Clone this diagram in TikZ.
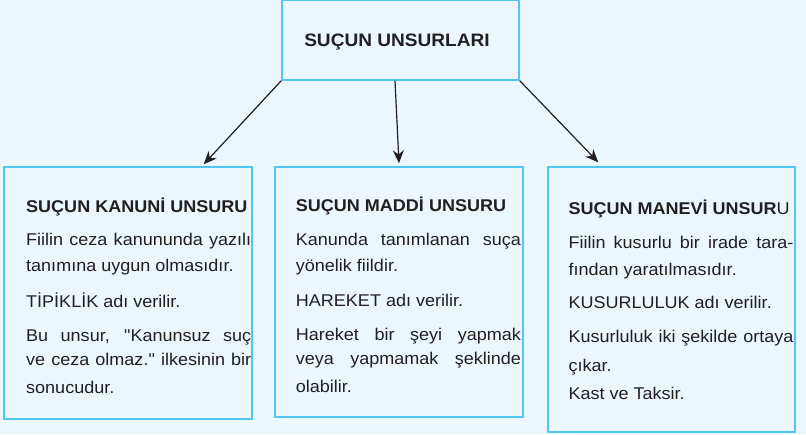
\documentclass[tikz,border=0pt]{standalone}
\usepackage{fontspec}
\setmainfont{Liberation Sans}
\newfontfamily\arialf{Liberation Sans}
\usepackage{graphicx}
\usetikzlibrary{arrows.meta,calc}
\definecolor{bg}{RGB}{235,247,253}
\definecolor{frame}{RGB}{80,198,240}
\definecolor{ink}{RGB}{35,31,32}
\newcommand\sx[1]{\scalebox{1.06}[1]{#1}}
\newcommand\jl[1]{\makebox[212.3pt][s]{#1}}
\hbadness=10000
\begin{document}
\begin{tikzpicture}[x=1pt,y=-1pt,
  box/.style={draw=frame, line width=1.5pt, fill=bg, rectangle, inner sep=0pt},
  txt/.style={anchor=base west, inner sep=0pt, text=ink, font=\arialf\fontsize{17}{20}\selectfont},
  hd/.style={txt, font=\arialf\fontsize{17}{20}\selectfont\bfseries},
  arr/.style={draw=ink, line width=1.2pt, -{Stealth[length=13pt,width=11pt]}}]
\fill[bg] (0,0) rectangle (806,434);
\useasboundingbox (0,0) rectangle (806,434);
% boxes
\node[box, minimum width=237pt, minimum height=79.5pt] (top) at (400.5,40.2) {};
\node[box, minimum width=248pt, minimum height=252pt] (kan) at (128,293) {};
\node[box, minimum width=248pt, minimum height=250pt] (mad) at (399,292) {};
\node[box, minimum width=247pt, minimum height=265pt] (man) at (671.5,299.5) {};
% title
\node[txt, anchor=base, font=\arialf\fontsize{18}{20}\selectfont\bfseries] (title) at (397,46.7) {\sx{SUÇUN UNSURLARI}};
% left box
\node[hd] (k0) at (26,212.3) {\sx{SUÇUN KANUNİ UNSURU}};
\node[txt] (k1) at (26,245.7) {\sx{\jl{Fiilin ceza kanununda yazılı}}};
\node[txt] (k2) at (26,271) {\sx{tanımına uygun olmasıdır.}};
\node[txt] (k3) at (26,307.7) {\sx{TİPİKLİK adı verilir.}};
\node[txt] (k4) at (26,341) {\sx{\jl{Bu unsur, "Kanunsuz suç}}};
\node[txt] (k5) at (26,365.5) {\sx{\jl{ve ceza olmaz." ilkesinin bir}}};
\node[txt] (k6) at (26,393.3) {\sx{sonucudur.}};
% middle box
\node[hd] (m0) at (295.7,211.7) {\sx{SUÇUN MADDİ UNSURU}};
\node[txt] (m1) at (295.7,245) {\sx{\jl{Kanunda tanımlanan suça}}};
\node[txt] (m2) at (295.7,271) {\sx{yönelik fiildir.}};
\node[txt] (m3) at (295.7,306.7) {\sx{HAREKET adı verilir.}};
\node[txt] (m4) at (295.7,340) {\sx{\jl{Hareket bir şeyi yapmak}}};
\node[txt] (m5) at (295.7,364.3) {\sx{\jl{veya yapmamak şeklinde}}};
\node[txt] (m6) at (295.7,392.3) {\sx{olabilir.}};
% right box
\node[txt] (n0) at (568.3,214.3) {\sx{\textbf{SUÇUN MANEVİ UNSUR}U}};
\node[txt] (n1) at (568.3,248.3) {\sx{\jl{Fiilin kusurlu bir irade tara-}}};
\node[txt] (n2) at (568.3,275) {\sx{fından yaratılmasıdır.}};
\node[txt] (n3) at (568.3,308.3) {\sx{KUSURLULUK adı verilir.}};
\node[txt] (n4) at (568.3,342.7) {\sx{\jl{Kusurluluk iki şekilde ortaya}}};
\node[txt] (n5) at (568.3,371.7) {\sx{çıkar.}};
\node[txt] (n6) at (568.3,399.3) {\sx{Kast ve Taksir.}};
% arrows
\draw[arr] (top.south west) -- ($(kan.north east)+(-49,-2)$);
\draw[arr] ($(top.south)+(-5.5,0)$) -- ($(mad.north)+(0,-3)$);
\draw[arr] (top.south east) -- ($(man.north west)+(51,-4)$);
\end{tikzpicture}
\end{document}
